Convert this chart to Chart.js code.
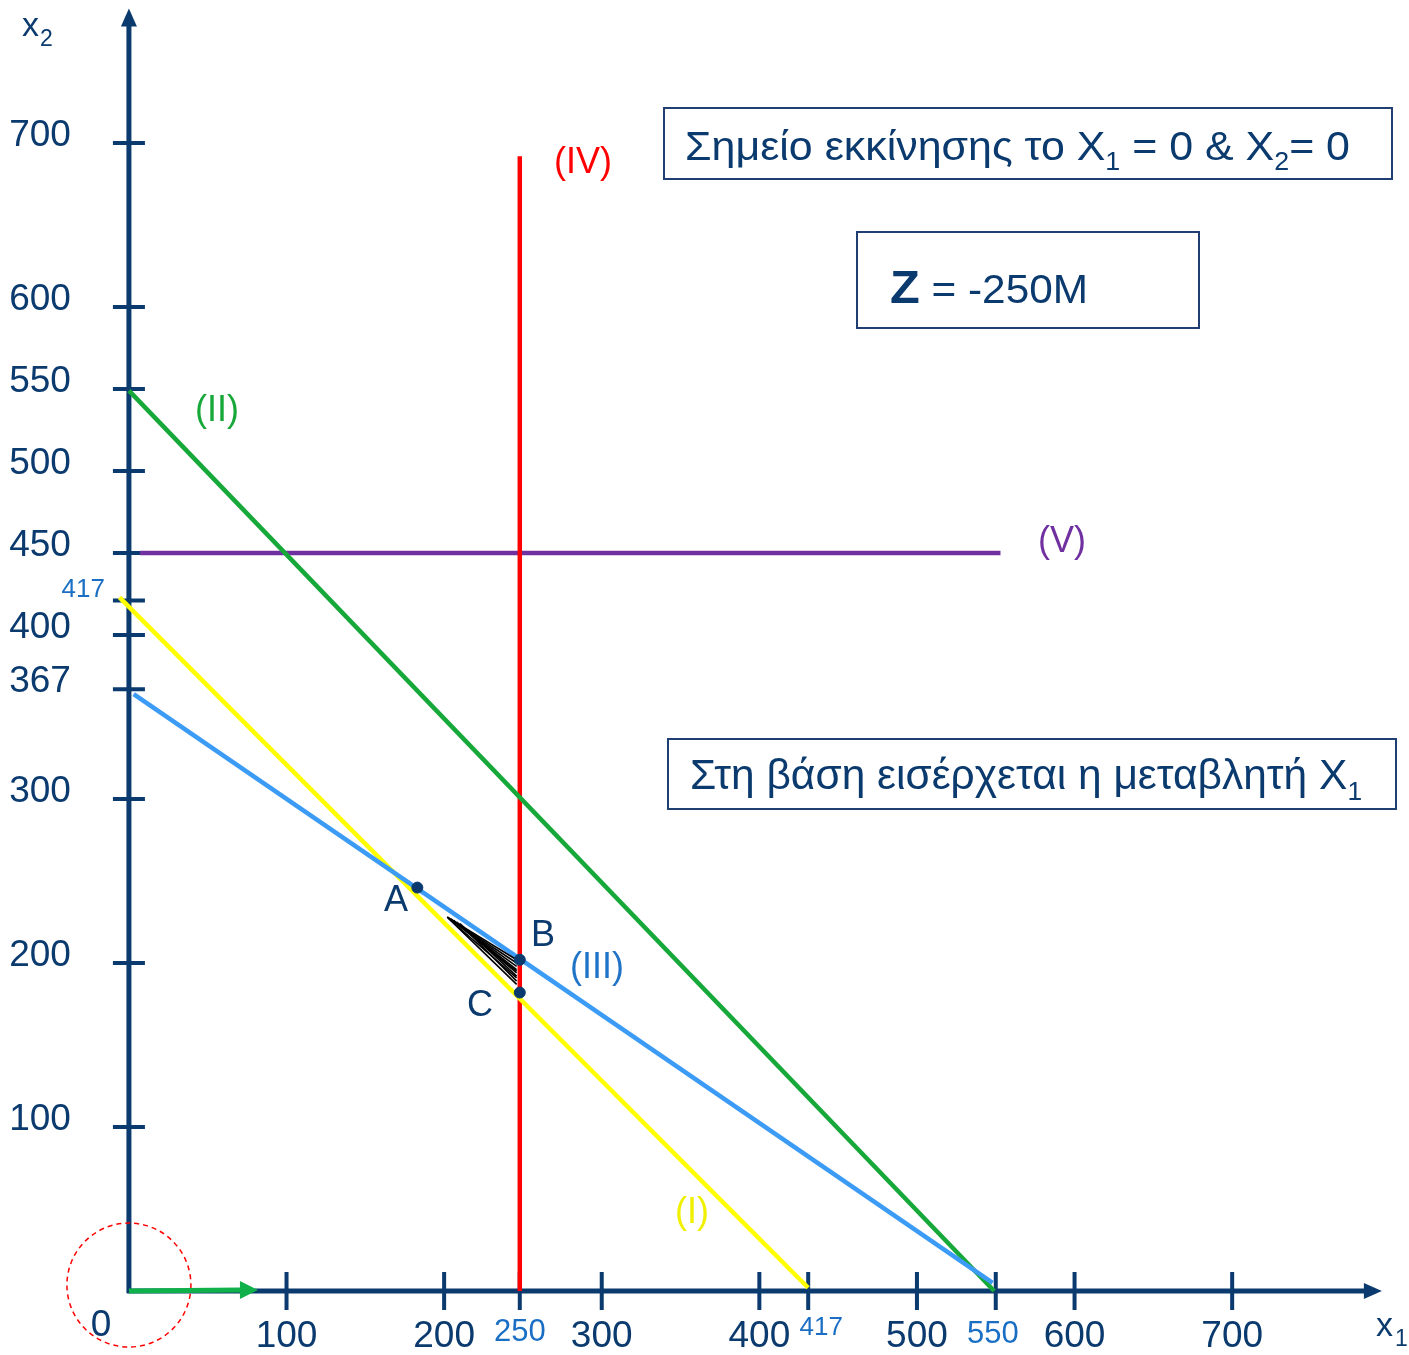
<!DOCTYPE html>
<html>
<head>
<meta charset="utf-8">
<script src="https://cdn.jsdelivr.net/npm/chart.js@4/dist/chart.umd.min.js"></script>
<style>
  html, body { margin: 0; padding: 0; background: #fff; overflow: hidden; }
  canvas { display: block; }
</style>
</head>
<body>
<canvas id="lp-graph" width="1409" height="1355" style="width:1409px;height:1355px"></canvas>
<script>
const ctxLp = document.getElementById('lp-graph').getContext('2d')

// values
const xTickValues = [100, 200, 248, 300, 400, 431, 500, 550, 600, 700]
const xTickLabels = ['100', '200', '250', '300', '400', '417', '500', '550', '600', '700']
const yTickValues = [100, 200, 300, 367, 400, 421, 450, 500, 550, 600, 700]
const yTickLabels = ['100', '200', '300', '367', '400', '417', '450', '500', '550', '600', '700']

const lineI_x = [-6, 431]
const lineI_y = [423, 2]
const lineII_x = [0, 549]
const lineII_y = [549, 0]
const lineIII_x = [3, 548]
const lineIII_y = [364, 5]
const lineIV_x = [248, 248]
const lineIV_y = [0, 692]
const lineV_x = [7, 553]
const lineV_y = [450, 450]

const cornerNames = ['A', 'B', 'C']
const cornerX = [183, 248, 248]
const cornerY = [246, 202, 182]

// the little black fan between A and B/C
const fanStartX = [202, 202, 204, 206, 208, 210, 212, 202, 203, 205]
const fanStartY = [228, 228, 227, 226, 225, 224, 222, 228, 227, 226]
const fanEndX = [246, 246, 246, 246, 246, 246, 246, 246, 246, 246]
const fanEndY = [202, 200, 198, 196, 194, 192, 189, 187, 191, 195]

const NAVY = '#0B3A6E'
const LABEL_BLUE = '#1A6FC4'
const FONT = "'Liberation Sans', Arial, sans-serif"

const pts = (xs, ys) => xs.map((x, i) => ({ x: x, y: ys[i] }))

const segment = (xs, ys, color) => ({
  data: pts(xs, ys),
  showLine: true,
  borderColor: color,
  borderWidth: 4.5,
  pointRadius: 0,
})

const fanSets = fanStartX.map((x0, i) => ({
  data: [{ x: x0, y: fanStartY[i] }, { x: fanEndX[i], y: fanEndY[i] }],
  showLine: true,
  borderColor: '#000',
  borderWidth: 1.6,
  pointRadius: 0,
}))

// first dataset is drawn on top
const datasetsLp = [
  {
    data: pts(cornerX, cornerY),
    backgroundColor: NAVY,
    borderColor: NAVY,
    pointRadius: 5.5,
    showLine: false,
  },
  ...fanSets,
  segment(lineIII_x, lineIII_y, '#3C9BF5'),
  segment(lineI_x, lineI_y, '#FFFF00'),
  segment(lineII_x, lineII_y, '#17A83A'),
  segment(lineIV_x, lineIV_y, '#FF0000'),
  segment(lineV_x, lineV_y, '#7030A0'),
]

// label styles for the highlighted ticks
const xSpecial = { '250': { size: 31, dy: 41, dx: 0 }, '417': { size: 26, dy: 37, dx: 13 }, '550': { size: 31, dy: 43, dx: -3 } }
const ySpecial = { '417': { size: 26, dy: -11, right: 105 } }

const lineNotes = [
  { text: '(IV)', color: '#FF0000', x: 583, y: 163 },
  { text: '(II)', color: '#17A83A', x: 217, y: 411 },
  { text: '(V)', color: '#7030A0', x: 1062, y: 542 },
  { text: '(III)', color: '#1F74C8', x: 597, y: 968 },
  { text: '(I)', color: '#F0F000', x: 692, y: 1213 },
  { text: 'A', color: NAVY, x: 396, y: 901 },
  { text: 'B', color: NAVY, x: 543, y: 936 },
  { text: 'C', color: NAVY, x: 480, y: 1006 },
]

function richText(ctx, parts, left, baseline, width) {
  let total = 0
  parts.forEach(p => {
    ctx.font = p.font
    p.w = ctx.measureText(p.t).width
    total += p.w
  })
  ctx.save()
  ctx.translate(left, baseline)
  ctx.scale(width / total, 1)
  ctx.textAlign = 'left'
  ctx.textBaseline = 'alphabetic'
  let cx = 0
  parts.forEach(p => {
    ctx.font = p.font
    ctx.fillText(p.t, cx, p.dy || 0)
    cx += p.w
  })
  ctx.restore()
}

function arrowHead(ctx, tipX, tipY, dirX, dirY, len, half) {
  const bx = tipX - dirX * len
  const by = tipY - dirY * len
  ctx.beginPath()
  ctx.moveTo(tipX, tipY)
  ctx.lineTo(bx - dirY * half, by + dirX * half)
  ctx.lineTo(bx + dirY * half, by - dirX * half)
  ctx.closePath()
  ctx.fill()
}

const axesPlugin = {
  id: 'axesPlugin',
  beforeDatasetsDraw(chart) {
    const ctx = chart.ctx
    const xs = chart.scales.x
    const ys = chart.scales.y
    const ox = xs.getPixelForValue(0)
    const oy = ys.getPixelForValue(0)
    const xEnd = xs.getPixelForValue(795)
    const yEnd = ys.getPixelForValue(782)

    ctx.save()
    ctx.strokeStyle = NAVY
    ctx.fillStyle = NAVY
    ctx.lineWidth = 5
    ctx.beginPath()
    ctx.moveTo(ox, oy + 2)
    ctx.lineTo(ox, yEnd + 14)
    ctx.moveTo(ox - 2, oy)
    ctx.lineTo(xEnd - 14, oy)
    ctx.stroke()
    arrowHead(ctx, ox, yEnd, 0, -1, 18, 8)
    arrowHead(ctx, xEnd, oy, 1, 0, 18, 8)

    ctx.lineWidth = 4
    ctx.beginPath()
    yTickValues.forEach(v => {
      const p = ys.getPixelForValue(v)
      ctx.moveTo(ox - 16, p)
      ctx.lineTo(ox + 16, p)
    })
    xTickValues.forEach(v => {
      const p = xs.getPixelForValue(v)
      ctx.moveTo(p, oy - 19)
      ctx.lineTo(p, oy + 19)
    })
    ctx.stroke()

    ctx.textBaseline = 'middle'
    yTickValues.forEach((v, i) => {
      const lab = yTickLabels[i]
      const p = ys.getPixelForValue(v)
      const sp = ySpecial[lab]
      ctx.textAlign = 'right'
      if (sp) {
        ctx.fillStyle = LABEL_BLUE
        ctx.font = sp.size + 'px ' + FONT
        ctx.fillText(lab, sp.right, p + sp.dy)
      } else {
        ctx.fillStyle = NAVY
        ctx.font = '37px ' + FONT
        ctx.fillText(lab, ox - 58, p - 7)
      }
    })
    xTickValues.forEach((v, i) => {
      const lab = xTickLabels[i]
      const p = xs.getPixelForValue(v)
      const sp = xSpecial[lab]
      ctx.textAlign = 'center'
      if (sp) {
        ctx.fillStyle = LABEL_BLUE
        ctx.font = sp.size + 'px ' + FONT
        ctx.fillText(lab, p + sp.dx, oy + sp.dy)
      } else {
        ctx.fillStyle = NAVY
        ctx.font = '37px ' + FONT
        ctx.fillText(lab, p, oy + 46)
      }
    })
    ctx.fillStyle = NAVY
    ctx.font = '37px ' + FONT
    ctx.fillText('0', ox - 28, oy + 35)

    // axis names
    ctx.textAlign = 'left'
    ctx.textBaseline = 'alphabetic'
    ctx.font = '34px ' + FONT
    ctx.fillText('x', 22, 36)
    ctx.fillText('x', 1376, 1336)
    ctx.font = '23px ' + FONT
    ctx.fillText('2', 40, 46)
    ctx.fillText('1', 1395, 1346)
    ctx.restore()
  },
  afterDatasetsDraw(chart) {
    const ctx = chart.ctx
    const xs = chart.scales.x
    const ys = chart.scales.y
    const ox = xs.getPixelForValue(0)
    const oy = ys.getPixelForValue(0)
    ctx.save()

    // starting point: dashed circle + green arrow
    ctx.strokeStyle = '#FF0000'
    ctx.lineWidth = 1.5
    ctx.setLineDash([5, 4])
    ctx.beginPath()
    ctx.arc(ox, oy - 6, 62, 0, Math.PI * 2)
    ctx.stroke()
    ctx.setLineDash([])
    ctx.strokeStyle = '#10B14B'
    ctx.fillStyle = '#10B14B'
    ctx.lineWidth = 5
    ctx.beginPath()
    ctx.moveTo(ox, oy)
    ctx.lineTo(ox + 112, oy - 1)
    ctx.stroke()
    arrowHead(ctx, ox + 129, oy - 1, 1, 0, 18, 9)

    // line labels
    ctx.textAlign = 'center'
    ctx.textBaseline = 'middle'
    lineNotes.forEach(n => {
      ctx.fillStyle = n.color
      ctx.font = '36px ' + FONT
      ctx.fillText(n.text, n.x, n.y)
    })

    // note boxes
    ctx.strokeStyle = '#1F3F73'
    ctx.lineWidth = 2
    ctx.strokeRect(664, 108, 728, 71)
    ctx.strokeRect(857, 232, 342, 96)
    ctx.strokeRect(668, 739, 728, 70)
    ctx.fillStyle = NAVY
    const big = '40px ' + FONT
    const sub = '25px ' + FONT
    richText(ctx, [
      { t: 'Σημείο εκκίνησης το X', font: big },
      { t: '1', font: sub, dy: 10 },
      { t: ' = 0 & X', font: big },
      { t: '2', font: sub, dy: 10 },
      { t: '= 0', font: big },
    ], 685, 160, 665)
    richText(ctx, [
      { t: 'Z', font: 'bold 46px ' + FONT },
      { t: ' = -250M', font: '40px ' + FONT },
    ], 890, 303, 198)
    richText(ctx, [
      { t: 'Στη βάση εισέρχεται η μεταβλητή X', font: '42px ' + FONT },
      { t: '1', font: '26px ' + FONT, dy: 11 },
    ], 690, 789, 672)
    ctx.restore()
  },
}

const configLp = {
  type: 'scatter',
  data: { datasets: datasetsLp },
  options: {
    responsive: false,
    animation: false,
    events: [],
    layout: { padding: 0, autoPadding: false },
    plugins: {
      legend: { display: false },
      tooltip: { enabled: false },
    },
    scales: {
      x: { type: 'linear', min: -81.8, max: 812.2, display: false },
      y: { type: 'linear', min: -39, max: 787.2, display: false },
    },
  },
  plugins: [axesPlugin],
}
const LpChart = new Chart(ctxLp, configLp)
</script>
</body>
</html>
